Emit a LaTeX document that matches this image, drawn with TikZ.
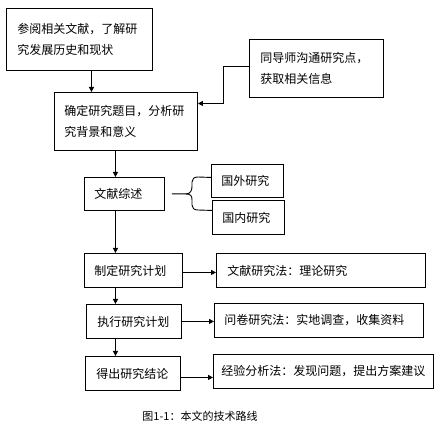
\documentclass[tikz,border=0pt]{standalone}
\usepackage{fontspec}
\newfontfamily\cjk{Noto Sans CJK SC}
\usetikzlibrary{arrows.meta}
\begin{document}
\begin{tikzpicture}[x=1pt,y=-1pt,
  box/.style={draw,line width=0.9pt,anchor=north west,align=left,inner ysep=0pt,
    font=\cjk\fontsize{12}{20.5}\selectfont},
  arr/.style={line width=0.9pt,-{Triangle[length=5pt,width=5pt]}},
  conn/.style={line width=0.9pt}]
\useasboundingbox (0,0) rectangle (445,422);
% top boxes
\node[box,minimum height=62pt,inner xsep=11pt,text width=124pt] (b1) at (6,8) {参阅相关文献，了解研\\究发展历史和现状};
\node[box,minimum height=58pt,inner xsep=11pt,text width=112pt] (b2) at (249,39) {同导师沟通研究点，\\获取相关信息};
\node[box,minimum height=58pt,inner xsep=10pt,text width=123pt] (b3) at (54,92) {确定研究题目，分析研\\究背景和意义};
% literature review
\node[box,minimum height=33pt,inner xsep=10pt,text width=60pt] (lit) at (84,177) {文献综述};
\node[box,minimum height=33pt,inner xsep=10pt,text width=52pt] (fw) at (211,164) {国外研究};
\node[box,minimum height=34pt,inner xsep=10pt,text width=52pt] (gn) at (212,200) {国内研究};
% steps
\node[box,minimum height=34pt,inner xsep=10pt,text width=78pt] (zd) at (84,253) {制定研究计划};
\node[box,minimum height=34pt,inner xsep=11pt,text width=187pt] (wx) at (216,253) {文献研究法：理论研究};
\node[box,minimum height=34pt,inner xsep=11pt,text width=73pt] (zx) at (86,304) {执行研究计划};
\node[box,minimum height=34pt,inner xsep=10pt,text width=189pt] (wj) at (214,303) {问卷研究法：实地调查，收集资料};
\node[box,minimum height=34pt,inner xsep=11pt,text width=73pt] (dc) at (85,356) {得出研究结论};
\node[box,minimum height=34pt,inner xsep=8pt,text width=204pt] (jy) at (213,354) {经验分析法：发现问题，提出方案建议};
% caption
\node[font=\cjk\fontsize{11}{13}\selectfont] (cap) at (200,416) {图1-1：本文的技术路线};
% connectors
\draw[arr] ([xshift=12pt]b1.south) -- ([xshift=12pt]b1.south |- b3.north);
\draw[arr] ([yshift=2pt]b2.west) -- ++(-26,0) |- ([yshift=18pt]b3.east);
\draw[arr] ([xshift=-10.5pt]b3.south) -- ([xshift=-10.5pt]b3.south |- lit.north);
\draw[arr] ([xshift=-9pt]lit.south) -- ([xshift=-9pt]lit.south |- zd.north);
\draw[arr] ([xshift=-18pt]zd.south) -- ([xshift=-18pt]zd.south |- zx.north);
\draw[arr] ([xshift=-18.5pt]zx.south) -- ([xshift=-18.5pt]zx.south |- dc.north);
\draw[arr] ([yshift=-2pt]zd.east) -- ([yshift=-2pt]zd.east -| wx.west);
\draw[arr] (zx.east) -- (zx.east -| wj.west);
\coordinate (dcout) at ([yshift=-4pt]dc.east);
\draw[arr] (dcout) -- (dcout -| jy.west);
% brace
\coordinate (bs) at ([xshift=7pt]lit.east);
\coordinate (bt) at ([yshift=3.5pt]fw.west);
\coordinate (bb) at ([yshift=7pt]gn.west);
\draw[conn] (bs) -- ++(14,0) coordinate (bm)
  .. controls ++(5,0) and (192,190) .. (192,186) -- (192,182)
  .. controls (192,179) and (194,177) .. (198,177) -- (bt);
\draw[conn] (bm) .. controls ++(5,0) and (192,196) .. (192,200) -- (192,205)
  .. controls (192,208) and (194,210) .. (198,210) -- (bb);
\end{tikzpicture}
\end{document}
